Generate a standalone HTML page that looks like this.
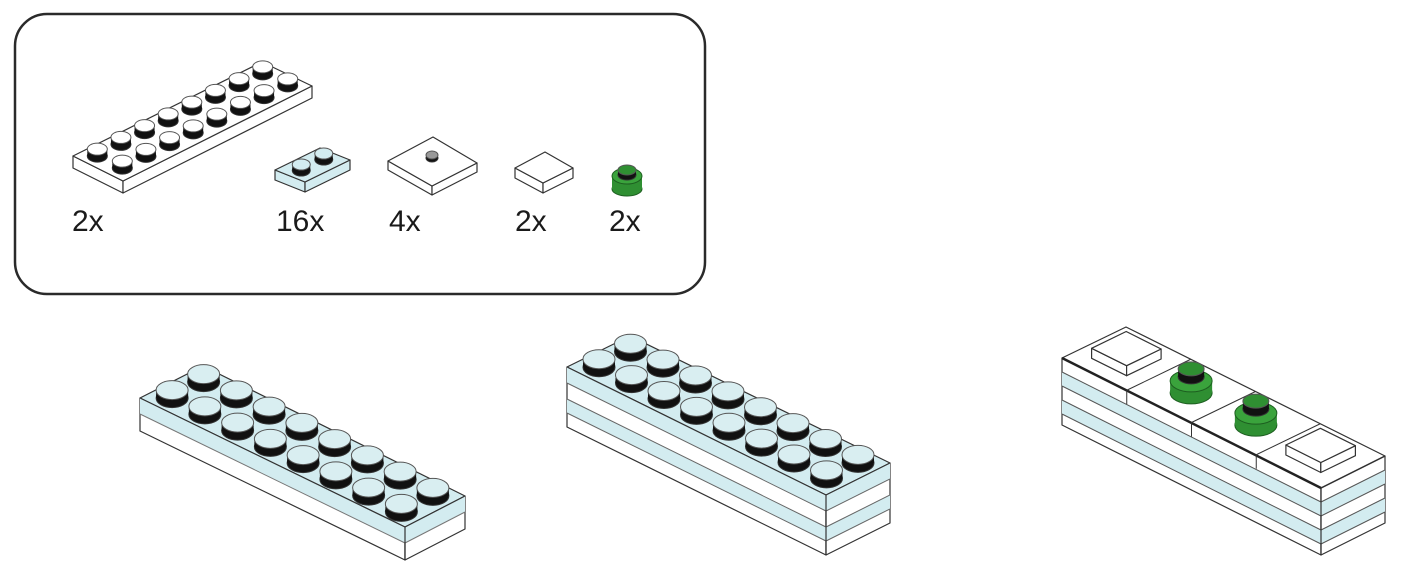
<!DOCTYPE html>
<html><head><meta charset="utf-8"><style>
html,body{margin:0;padding:0;background:#fff;width:1404px;height:573px;overflow:hidden}
svg{position:absolute;left:0;top:0}
.lbl{font-family:"Liberation Sans",Arial,sans-serif;font-size:30px;fill:#1a1a1a}
</style></head><body>
<svg id="s" width="1404" height="573" viewBox="0 0 1404 573">
<rect x="15" y="14" width="690" height="280" rx="32" ry="32" fill="#fff" stroke="#2a2a2a" stroke-width="2.5"/>
<text class="lbl" x="72" y="231">2x</text>
<text class="lbl" x="276" y="231">16x</text>
<text class="lbl" x="389" y="231">4x</text>
<text class="lbl" x="515" y="231">2x</text>
<text class="lbl" x="609" y="231">2x</text>
<g id="g"></g>
</svg>
<script>
var g=document.getElementById('g'),out='';
function P(a){return a.map(function(p){return p[0].toFixed(1)+','+p[1].toFixed(1)}).join(' ')}
function poly(pts,fill,sw){out+='<polygon points="'+P(pts)+'" fill="'+fill+'" stroke="#333" stroke-width="'+(sw||1.2)+'" stroke-linejoin="round"/>';}
function add(p,q,k){if(k===undefined)k=1;return [p[0]+q[0]*k,p[1]+q[1]*k]}
function box(L,B,R,F,h,top,left,right){
 var d=[0,h];
 poly([L,F,add(F,d),add(L,d)],left);
 poly([F,R,add(R,d),add(F,d)],right);
 poly([L,B,R,F],top);
}
function band(L,F,R,y0,h,fill){
 out+='<polygon points="'+P([add(L,[0,y0]),add(F,[0,y0]),add(F,[0,y0+h]),add(L,[0,y0+h])])+'" fill="'+fill+'" stroke="none"/>';
 out+='<polygon points="'+P([add(F,[0,y0]),add(R,[0,y0]),add(R,[0,y0+h]),add(F,[0,y0+h])])+'" fill="'+fill+'" stroke="none"/>';
}
function line(a,b,w,c){out+='<line x1="'+a[0]+'" y1="'+a[1]+'" x2="'+b[0]+'" y2="'+b[1]+'" stroke="'+(c||'#333')+'" stroke-width="'+(w||1.2)+'"/>';}
function stud(c,rx,ry,h,top,side){
 out+='<ellipse cx="'+c[0]+'" cy="'+(c[1]+h)+'" rx="'+rx+'" ry="'+ry+'" fill="'+side+'" stroke="#333" stroke-width="1"/>';
 out+='<rect x="'+(c[0]-rx)+'" y="'+c[1]+'" width="'+(2*rx)+'" height="'+h+'" fill="'+side+'"/>';
 out+='<ellipse cx="'+c[0]+'" cy="'+c[1]+'" rx="'+rx+'" ry="'+ry+'" fill="'+top+'" stroke="#555" stroke-width="1"/>';
}
function studsGrid(B,a,b,n,m,rx,ry,h,top,side,lift){
 for(var i=0;i<n;i++)for(var j=0;j<m;j++){
  var c=add(add(B,a,i+0.5),b,j+0.5);c=[c[0],c[1]-(lift||0)];
  stud(c,rx,ry,h,top,side);}
}
var LB='#d3ecf0',W='#fff',BK='#111';
// long plate 2x8
(function(){var L=[73,156],B=[262,62],R=[312,86],F=[123,181];
 box(L,B,R,F,12,W,W,W);
 var a=[(B[0]-L[0])/8,(B[1]-L[1])/8],b=[(R[0]-B[0])/2,(R[1]-B[1])/2];
 for(var i=0;i<8;i++)for(var j=0;j<2;j++){var c=add(add(L,a,i+0.5),b,j+0.5);c=[c[0],c[1]-7];stud(c,10,6,7,W,BK);}
})();
(function(){var L=[275,170],B=[320,148],R=[350,160],F=[305,182];
 box(L,B,R,F,10,LB,LB,LB);
 var a=[(B[0]-L[0])/2,(B[1]-L[1])/2],b=[(R[0]-B[0]),(R[1]-B[1])];
 for(var i=0;i<2;i++){var c=add(add(L,a,i+0.5),b,0.5);c=[c[0],c[1]-6];stud(c,9,5.5,6,LB,BK);}
})();
box([388,161],[433,137],[477,163],[432,186],9,W,W,W);
stud([432,155],6,4,3,'#999',BK);
box([515,168],[545,152],[573,168],[543,183],10,W,W,W);
(function(){
 out+='<ellipse cx="627" cy="189" rx="15" ry="7" fill="#2f8f32" stroke="#1d5e20"/>';
 out+='<rect x="612" y="176" width="30" height="13" fill="#2f8f32"/>';
 out+='<ellipse cx="627" cy="176" rx="15" ry="8" fill="#3aa33c" stroke="#1d5e20"/>';
 stud([627,170],9,5,5,'#2f8f32',BK);
})();
// step 1
(function(){var L=[140,398],B=[203,366],R=[465,496],F=[405,527],h=33;
 box(L,B,R,F,h,LB,W,W);
 band(L,F,R,0,16,LB);
 line(L,F);line(F,R);line(add(L,[0,16]),add(F,[0,16]),1,'#777');line(add(F,[0,16]),add(R,[0,16]),1,'#777');
 line(F,add(F,[0,h]));
 var a=[(R[0]-B[0])/8,(R[1]-B[1])/8],b=[(L[0]-B[0])/2,(L[1]-B[1])/2];
 studsGrid(B,a,b,8,2,16,9.5,8,'#d9eef1',BK,8);
})();
// step 2
(function(){var L=[567,367],B=[630,336],R=[890,463],F=[826,495],h=60;
 box(L,B,R,F,h,LB,W,W);
 band(L,F,R,0,16,LB);band(L,F,R,32,14,LB);
 [16,32,46].forEach(function(y){line(add(L,[0,y]),add(F,[0,y]),1,'#666');line(add(F,[0,y]),add(R,[0,y]),1,'#666');});
 line(L,F);line(F,R);line(F,add(F,[0,h]));
 var a=[(R[0]-B[0])/8,(R[1]-B[1])/8],b=[(L[0]-B[0])/2,(L[1]-B[1])/2];
 studsGrid(B,a,b,8,2,16,9.5,8,'#d9eef1',BK,8);
})();
// step 3
(function(){var L=[1062,358],B=[1126,327],R=[1385,456],F=[1321,488],h=67;
 box(L,B,R,F,h,W,W,W);
 band(L,F,R,14,14,LB);band(L,F,R,42,14,LB);
 [14,28,42,56].forEach(function(y){line(add(L,[0,y]),add(F,[0,y]),1,'#555');line(add(F,[0,y]),add(R,[0,y]),1,'#555');});
 line(L,F,2.5,'#222');line(F,R,1.5);line(F,add(F,[0,h]));
 var a=[(R[0]-B[0])/4,(R[1]-B[1])/4],b=[(L[0]-B[0]),(L[1]-B[1])];
 for(var i=1;i<4;i++){line(add(B,a,i),add(L,a,i),1);line(add(L,a,i),add(add(L,a,i),[0,14]),1);}
 function tile(c){
  var L2=add(add(c,a,-0.27),b,0.27),B2=add(add(c,a,-0.27),b,-0.27),R2=add(add(c,a,0.27),b,-0.27),F2=add(add(c,a,0.27),b,0.27);
  box(L2,B2,R2,F2,10,W,W,W);}
 var c0=add(add(B,a,0.5),b,0.5);tile([c0[0],c0[1]-10]);
 var c3=add(add(B,a,3.5),b,0.5);tile([c3[0],c3[1]-10]);
 [1.5,2.5].forEach(function(i){var c=add(add(B,a,i),b,0.5);
  out+='<ellipse cx="'+c[0]+'" cy="'+(c[1]+2)+'" rx="21" ry="11" fill="#2f8f32" stroke="#1d5e20"/>';
  out+='<rect x="'+(c[0]-21)+'" y="'+(c[1]-10)+'" width="42" height="12" fill="#2f8f32"/>';
  out+='<ellipse cx="'+c[0]+'" cy="'+(c[1]-10)+'" rx="21" ry="11" fill="#3aa33c" stroke="#1d5e20"/>';
  stud([c[0],c[1]-22],13,7,8,'#2f8f32',BK);});
})();
g.innerHTML=out;
</script>
</body></html>
